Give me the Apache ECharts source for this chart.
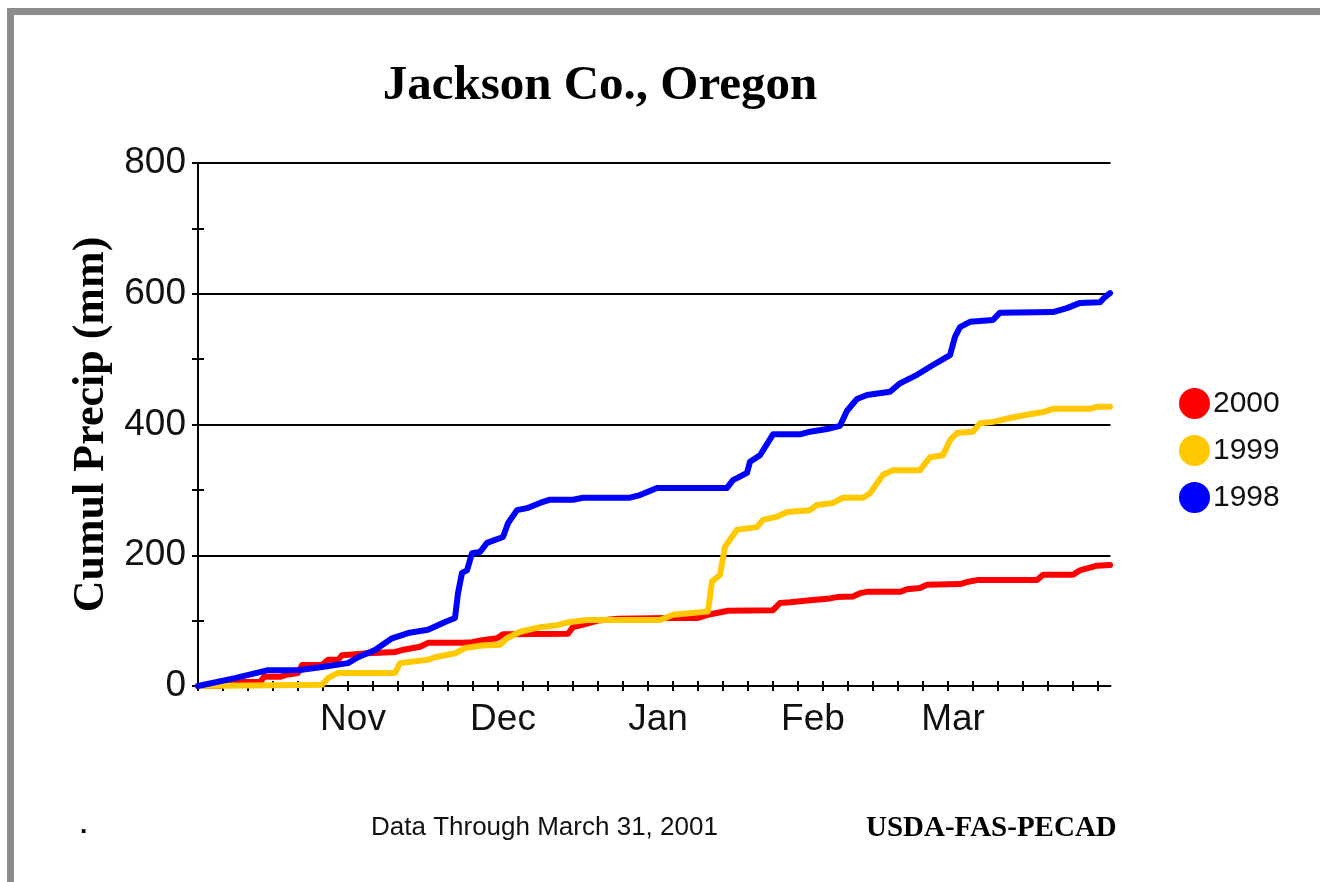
<!DOCTYPE html>
<html><head><meta charset="utf-8">
<script src="https://cdn.jsdelivr.net/npm/echarts@6/dist/echarts.min.js"></script>
<style>html,body{margin:0;padding:0;background:#fff}#c{width:1320px;height:882px}</style>
</head><body><div id="c"></div>
<script>
// ---- data (day index from Oct 1, cumulative precipitation mm) ----
const seriesNames = ['2000', '1999', '1998'];
const seriesColors = ['#ff0000', '#ffc800', '#0000ff'];
const monthLabels = ['Nov', 'Dec', 'Jan', 'Feb', 'Mar'];
const monthStartDays = [31, 61, 92, 123, 151];
const yTickValues = [0, 100, 200, 300, 400, 500, 600, 700, 800];

const precip2000 = [
  [0,0],[4.4,0],[5.6,6],[12.4,6],[13.2,14],[16.4,14],[17.6,17],[20,20],[20.8,32],[24.8,32],
  [26,40],[28,40],[28.8,47],[34,50],[39.4,52],[40.8,55],[44.4,60],[46,66],[52.8,66],[54.8,67],
  [56.8,70],[59.8,73],[61,79],[74,80],[75,90],[78,96],[80,100],[84,103],[94,104],[100,104],
  [102,109],[106,115],[115,116],[116.4,127],[118.4,128],[122.4,131],[126.4,134],[127.8,136],
  [131,137],[132.4,142],[133.8,144],[140.4,144],[141.8,148],[144.4,150],[145.8,155],[152.4,156],
  [153.8,159],[155.8,162],[167.8,162],[169,170],[175,170],[176.4,177],[179.8,184],[182.4,185]
];
const precip1999 = [
  [0,0],[24.8,2],[26,12],[28,20],[39.4,20],[40.4,35],[46,40],[47.4,44],[51.4,50],[53.4,58],
  [56.8,62],[60.4,63],[61.8,73],[64.4,83],[68.4,90],[71.8,93],[74.4,98],[77.8,101],[92.4,101],
  [95,109],[102,114],[102.8,160],[104.4,170],[105.4,213],[107.8,239],[111.8,243],[113,254],
  [115.8,259],[117.8,266],[122.4,269],[123.8,277],[127,280],[129,288],[133,288],[134.4,295],
  [137,323],[139,330],[144.4,330],[146.4,350],[149,353],[150.4,376],[151.8,387],[155,389],
  [156.4,402],[159,404],[162.4,410],[165.8,415],[169,419],[171,424],[178.4,424],[179.8,427],[182.4,427]
];
const precip1998 = [
  [0,0],[7.4,12],[13.8,24],[20,24],[24.8,29],[30,35],[32,44],[35.4,55],[38.8,73],[42,81],
  [46,86],[49.4,98],[51.4,104],[52,142],[52.8,173],[53.8,177],[54.8,203],[56.4,205],[57.8,219],
  [61,228],[62,249],[63.8,269],[65.8,272],[68.4,280],[70.4,285],[75,285],[77,288],[86.4,288],
  [88.4,292],[91.8,303],[105.8,303],[107,315],[109.8,326],[110.4,343],[112.4,353],[115,385],
  [120.4,385],[122.4,389],[125.8,393],[128.4,398],[129.8,421],[131.8,439],[133.8,445],[138.4,450],
  [140.4,463],[143.8,476],[147,491],[150.4,506],[151.4,534],[152.4,549],[154.4,557],[159,560],
  [160.4,571],[171,572],[173.8,578],[176.4,586],[180.4,587],[181.4,595],[182.4,601]
];
const seriesData = [precip2000, precip1999, precip1998];

const xMin = 0, xMax = 182.5;
const xTickDays = [];
for (let d = 0; d <= 180; d += 5) xTickDays.push(d);

const SANS = '"Liberation Sans", Arial, Helvetica, sans-serif';
const SERIF = '"Liberation Serif", "Times New Roman", Times, serif';

const chart = echarts.init(document.getElementById('c'), null, {renderer: 'canvas'});
const axisBlack = {color: '#000', width: 2};
const gridBox = {left: 198, right: 209.5, top: 163, bottom: 196, containLabel: false};

chart.setOption({
  animation: false,
  backgroundColor: '#fff',
  title: {
    text: 'Jackson Co., Oregon',
    left: 600, top: 62, textAlign: 'center', padding: 0,
    textStyle: {fontFamily: SERIF, fontWeight: 'bold', fontSize: 49, color: '#000'}
  },
  grid: [Object.assign({}, gridBox), Object.assign({}, gridBox)],
  legend: {
    orient: 'vertical', left: 1174, top: 383,
    icon: 'circle', itemWidth: 31, itemHeight: 31, itemGap: 16,
    data: seriesNames,
    textStyle: {fontFamily: SANS, fontSize: 30, color: '#111', padding: [0, 0, 0, -2]}
  },
  xAxis: [{
    type: 'value', gridIndex: 0, min: xMin, max: xMax, position: 'bottom',
    axisLine: {show: true, lineStyle: axisBlack},
    axisTick: {show: true, length: 5, inside: false, lineStyle: axisBlack, customValues: xTickDays},
    axisLabel: {
      show: true, customValues: monthStartDays, margin: 15,
      fontFamily: SANS, fontSize: 37, color: '#111',
      formatter: v => monthLabels[monthStartDays.indexOf(v)] || ''
    },
    splitLine: {show: false}
  }, {
    type: 'value', gridIndex: 1, min: xMin, max: xMax, position: 'bottom',
    axisLine: {show: false},
    axisTick: {show: true, length: 5, inside: true, lineStyle: axisBlack, customValues: xTickDays},
    axisLabel: {show: false},
    splitLine: {show: false}
  }],
  yAxis: [{
    type: 'value', gridIndex: 0, min: 0, max: 800, interval: 200, position: 'left',
    name: 'Cumul Precip (mm)', nameLocation: 'middle', nameRotate: 90, nameGap: 75,
    nameTextStyle: {fontFamily: SERIF, fontWeight: 'bold', fontSize: 44, color: '#000'},
    axisLine: {show: true, lineStyle: axisBlack},
    axisTick: {show: true, length: 6, inside: false, lineStyle: axisBlack},
    minorTick: {show: true, splitNumber: 2, length: 6, lineStyle: axisBlack},
    minorSplitLine: {show: false},
    axisLabel: {margin: 12, fontFamily: SANS, fontSize: 37, color: '#111'},
    splitLine: {show: true, lineStyle: {color: '#000', width: 2}}
  }, {
    type: 'value', gridIndex: 1, min: 0, max: 800, position: 'left',
    axisLine: {show: false},
    axisTick: {show: true, length: 6, inside: true, lineStyle: axisBlack, customValues: yTickValues},
    axisLabel: {show: false},
    splitLine: {show: false}
  }],
  series: seriesNames.map((name, i) => ({
    name: name, type: 'line', data: seriesData[i],
    xAxisIndex: 0, yAxisIndex: 0,
    showSymbol: false, symbol: 'none',
    color: seriesColors[i],
    lineStyle: {color: seriesColors[i], width: 6, join: 'round', cap: 'round'},
    z: 3 + i
  })),
  graphic: [
    {type: 'rect', shape: {x: 7, y: 8, width: 1313, height: 7}, style: {fill: '#8c8c8c'}, silent: true},
    {type: 'rect', shape: {x: 7, y: 8, width: 7, height: 874}, style: {fill: '#8c8c8c'}, silent: true},
    {type: 'text', left: 371, top: 815, silent: true,
      style: {text: 'Data Through March 31, 2001', font: '26px ' + SANS, fill: '#111'}},
    {type: 'text', left: 866, top: 814, silent: true,
      style: {text: 'USDA-FAS-PECAD', font: 'bold 29px ' + SERIF, fill: '#000'}},
    {type: 'text', left: 80, top: 813, silent: true,
      style: {text: '.', font: 'bold 26px ' + SANS, fill: '#000'}}
  ]
});
</script>
</body></html>
